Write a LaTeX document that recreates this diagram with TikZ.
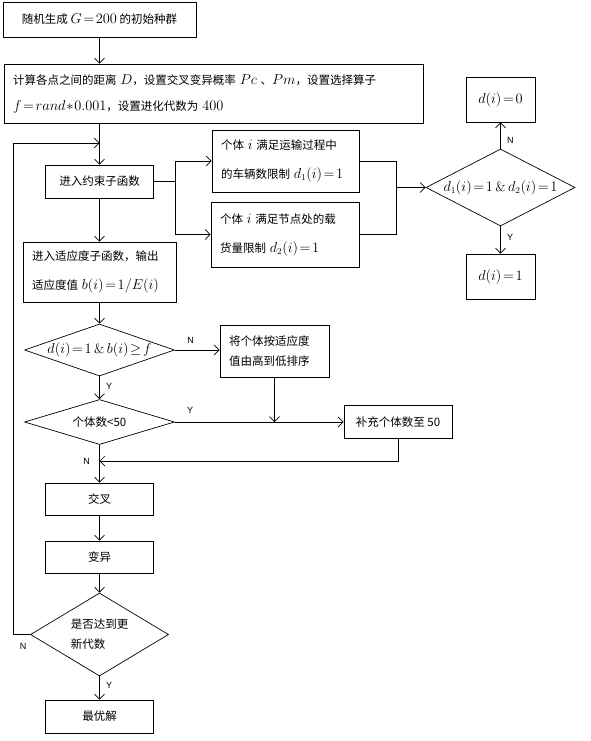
\documentclass[tikz,border=0pt]{standalone}
\usepackage{fontspec}
\newfontfamily\cjk{Noto Sans CJK SC}
\newfontfamily\lab{Liberation Sans}
\usetikzlibrary{shapes.geometric,arrows.meta}
\newcommand\mx[1]{{\fontsize{13.5}{20}\selectfont\thickmuskip=2mu\medmuskip=1mu$#1$}}

\begin{document}
\begin{tikzpicture}[x=1pt,y=-1pt,line width=0.7pt,
  every node/.style={font=\cjk\fontsize{11.5}{20}\selectfont},
  box/.style={draw,inner sep=0pt,align=center},
  tbox/.style={draw,inner xsep=9pt,inner ysep=0pt,align=left},
  cond/.style={draw,diamond,inner sep=0pt,align=center},
  yn/.style={font=\lab\fontsize{9}{10}\selectfont},
  arr/.style={-{Straight Barb[length=5pt,width=10pt]}}]
  \def \mainx {99.5}

  \useasboundingbox (0,0) rectangle (591,741);

  % main column
  \node[box,minimum width=193pt,minimum height=35pt] (init) at (\mainx,19.5)
    {随机生成 \mx{G=200} 的初始种群};
  \node[tbox,text width=401pt,minimum height=59pt] (setup) at (213.5,93.5)
    {计算各点之间的距离 \mx{D}，设置交叉变异概率 \mx{Pc} 、\mx{Pm}，设置选择算子\\[6pt]
     \mx{f=rand*0.001}，设置进化代数为 \mx{400}};
  \node[box,minimum width=108pt,minimum height=33pt] (cons) at (\mainx,181.5)
    {进入约束子函数};
  \node[tbox,text width=135pt,minimum height=60pt] (fit) at (\mainx,272)
    {进入适应度子函数，输出\\[9pt]适应度值 \mx{b(i)=1/E(i)}};
  \node[cond,aspect=3,minimum width=150pt,minimum height=52pt] (dec) at (\mainx,350)
    {\mx{d(i)=1\,\&\,b(i)\ge f}};
  \node[cond,aspect=3,minimum width=150pt,minimum height=45pt] (cnt) at (\mainx,422)
    {个体数<50};
  \node[box,minimum width=108pt,minimum height=32pt] (cross) at (\mainx,499) {交叉};
  \node[box,minimum width=108pt,minimum height=32pt] (mut) at (\mainx,557) {变异};
  \node[cond,aspect=1.66,minimum width=138pt,minimum height=83pt,align=left] (gen)
    at (\mainx,634.5) {是否达到更\\新代数};
  \node[box,minimum width=108pt,minimum height=33pt] (best) at (\mainx,716.5) {最优解};

  % side boxes
  \node[tbox,text width=129pt,minimum height=62pt] (lim1) at (285.5,161)
    {个体 \mx{i} 满足运输过程中\\[9pt]的车辆数限制 \mx{d_1(i)=1}};
  \node[tbox,text width=130pt,minimum height=65pt] (lim2) at (285,234.5)
    {个体 \mx{i} 满足节点处的载\\[9pt]货量限制 \mx{d_2(i)=1}};
  \node[cond,aspect=2,minimum width=149pt,minimum height=77pt] (chk) at (500.5,187.5)
    {\mx{d_1(i)=1\,\&\,d_2(i)=1}};
  \node[box,minimum width=69pt,minimum height=45pt] (zero) at (500.5,99.5) {\mx{d(i)=0}};
  \node[box,minimum width=69pt,minimum height=45pt] (one) at (500.5,276.5) {\mx{d(i)=1}};
  \node[tbox,text width=91pt,minimum height=52pt] (sort) at (274.5,351)
    {将个体按适应度\\值由高到低排序};
  \node[box,minimum width=108pt,minimum height=33pt] (fill) at (398,422)
    {补充个体数至 50};

  \coordinate (loop) at (13,143);
  \coordinate (split) at (175,181.5);
  \coordinate (join) at (396,187.5);
  \coordinate (rejoin) at (\mainx,461);

  % connectors
  \draw[arr] (init.south) -- (init.south |- setup.north);
  \draw[arr] (setup.south -| cons.north) -- (cons.north);
  \draw[arr] (gen.west) node[yn,below left,yshift=-5pt] {N}
    -| (loop) -- (loop -| cons.north);
  \draw (cons.east) -- (split);
  \draw[arr] (split) |- (lim1.west);
  \draw[arr] (split) |- (lim2.west);
  \draw (lim1.east) -| (join);
  \draw (lim2.east) -| (join);
  \draw[arr] (join) -- (chk.west);
  \draw[arr] (chk.north) -- (zero.south) node[yn,pos=0.3,right=3pt] {N};
  \draw[arr] (chk.south) -- (one.north) node[yn,pos=0.4,right=3pt] {Y};
  \draw[arr] (cons.south) -- (fit.north);
  \draw[arr] (fit.south) -- (dec.north);
  \draw[arr] (dec.east) -- (dec.east -| sort.west) node[yn,pos=0.35,above=3pt] {N};
  \draw[arr] (dec.south) -- (cnt.north) node[yn,pos=0.45,right=3pt] {Y};
  \draw[arr] (cnt.east) -- (fill.west) node[yn,pos=0.09,above=5pt] {Y};
  \draw[arr] (sort.south) -- (sort.south |- cnt.east);
  \draw[arr] (fill.south) |- (rejoin) node[yn,left=6pt] {N};
  \draw[arr] (cnt.south) -- (cross.north);
  \draw[arr] (cross) -- (mut);
  \draw[arr] (mut) -- (gen);
  \draw[arr] (gen) -- (best) node[yn,pos=0.37,right=3pt] {Y};
\end{tikzpicture}
\end{document}
